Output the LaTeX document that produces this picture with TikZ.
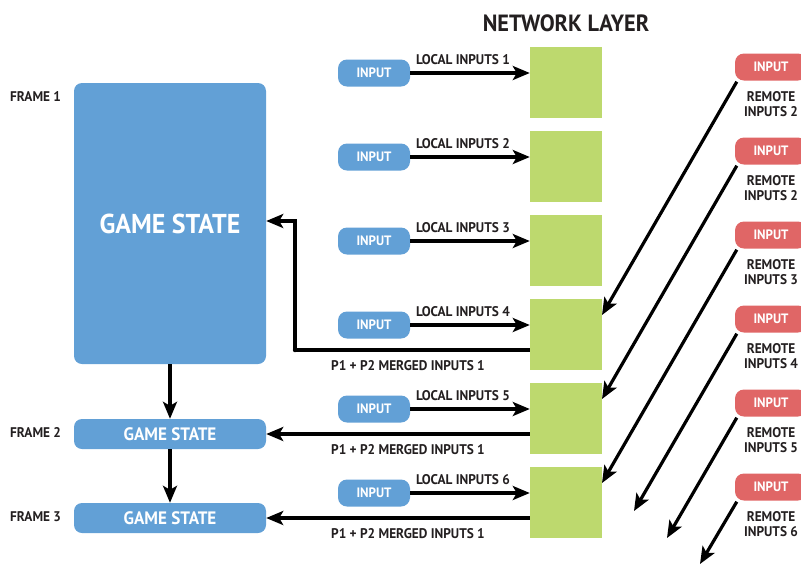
\documentclass[tikz,border=0pt]{standalone}
\usepackage{fontspec}
\setmainfont{PT Sans}[FakeStretch=0.95]
\usetikzlibrary{arrows.meta,calc}
\definecolor{stateblue}{HTML}{62A0D6}
\definecolor{netgreen}{HTML}{BDD96E}
\definecolor{remotered}{HTML}{E06666}
\definecolor{ink}{HTML}{231F20}
\tikzset{
  every node/.style={font=\bfseries, text=ink},
  arr/.style={line width=3.2pt, draw=black, -{Stealth[length=17pt,width=14pt,inset=4pt]}},
  statebox/.style={fill=stateblue, rounded corners=8pt, minimum width=192pt, text=white, inner sep=0pt},
  netbox/.style={fill=netgreen, minimum width=72pt, minimum height=71pt, inner sep=0pt},
  localpill/.style={fill=stateblue, rounded corners=9pt, minimum width=72pt, minimum height=27pt, text=white, inner sep=0pt, font=\bfseries\fontsize{13.6}{13.6}\selectfont},
  remotepill/.style={fill=remotered, rounded corners=9pt, minimum width=72pt, minimum height=27pt, text=white, inner sep=0pt, font=\bfseries\fontsize{13.6}{13.6}\selectfont},
  smalltxt/.style={font=\bfseries\fontsize{14}{15.5}\selectfont, inner sep=0pt},
}
\begin{document}
\begin{tikzpicture}[x=1pt, y=-1pt]
\useasboundingbox (0,0) rectangle (801,566);

% title
\node[font=\bfseries\fontsize{23.5}{23.5}\selectfont] (title) at (566,23) {NETWORK LAYER};

% game states
\node[statebox, minimum height=281pt, font=\bfseries\fontsize{27.3}{27.3}\selectfont] (gs1) at (170,223.5) {\raisebox{-3pt}{GAME STATE}};
\node[statebox, minimum height=30pt, font=\bfseries\fontsize{18}{18}\selectfont] (gs2) at (170,434) {GAME STATE};
\node[statebox, minimum height=30pt, font=\bfseries\fontsize{18}{18}\selectfont] (gs3) at (170,518) {GAME STATE};

\node[smalltxt, anchor=west] (f1) at (10,97) {FRAME 1};
\node[smalltxt, anchor=west] (f2) at (10,432) {FRAME 2};
\node[smalltxt, anchor=west] (f3) at (10,517) {FRAME 3};

\draw[arr] (gs1.south) -- (gs2.north);
\draw[arr] (gs2.south) -- (gs3.north);

% network layer, local inputs, remote inputs
\foreach \k [evaluate=\k as \gy using 82.5+84*(\k-1),
             evaluate=\k as \ly using 73+84*(\k-1),
             evaluate=\k as \ry using 67+84*(\k-1)] in {1,...,6} {
  \node[netbox] (g\k) at (566,\gy) {};
  \node[localpill] (in\k) at (374,\ly) {INPUT};
  \draw[arr] (in\k.east) -- (in\k.east -| g\k.west);
  \node[smalltxt, anchor=east] (ll\k) at (510,60+84*\k-84) {LOCAL INPUTS \k};
  \node[remotepill] (r\k) at (771,\ry) {INPUT};
}
\node[smalltxt, align=center, anchor=north] (rl1) at (771,91) {REMOTE\\INPUTS 2};
\node[smalltxt, align=center, anchor=north] (rl2) at (771,175) {REMOTE\\INPUTS 2};
\node[smalltxt, align=center, anchor=north] (rl3) at (771,259) {REMOTE\\INPUTS 3};
\node[smalltxt, align=center, anchor=north] (rl4) at (771,343) {REMOTE\\INPUTS 4};
\node[smalltxt, align=center, anchor=north] (rl5) at (771,427) {REMOTE\\INPUTS 5};
\node[smalltxt, align=center, anchor=north] (rl6) at (771,511) {REMOTE\\INPUTS 6};

% remote inputs travelling towards the network layer
\coordinate (e1) at (602,315);
\coordinate (e2) at (602,399);
\coordinate (e3) at (602,483);
\coordinate (e4) at (634,511);
\coordinate (e5) at (667,538);
\coordinate (e6) at (700,564);
\foreach \k in {1,...,6} {
  \draw[arr] ([xshift=2pt, yshift=-1pt]r\k.south west) -- (e\k);
}

% merged inputs back to the game states
\coordinate (m) at (295,350);
\draw[line width=3.2pt] (g4.west |- m) -- (m);
\fill (m) circle (2.2pt);
\draw[arr] (m) |- ([yshift=2.5pt]gs1.east);
\draw[arr] (g5.west |- gs2.east) -- (gs2.east);
\draw[arr] (g6.west |- gs3.east) -- (gs3.east);
\node[smalltxt] (mg1) at (408,366) {P1 + P2 MERGED INPUTS 1};
\node[smalltxt] (mg2) at (408,450) {P1 + P2 MERGED INPUTS 1};
\node[smalltxt] (mg3) at (408,534) {P1 + P2 MERGED INPUTS 1};
\end{tikzpicture}
\end{document}
